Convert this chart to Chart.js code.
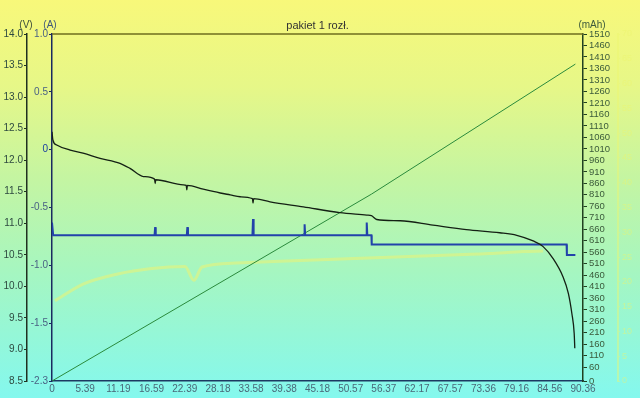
<!DOCTYPE html>
<html><head><meta charset="utf-8">
<script src="https://cdn.jsdelivr.net/npm/chart.js@4"></script>
<style>
html,body{margin:0;padding:0;}
body{width:640px;height:398px;overflow:hidden;background:linear-gradient(to bottom,#f8f87a 0%,#e6f788 22%,#c4f5a2 45%,#a6f6c0 68%,#84f8ee 100%);}
#wrap{position:relative;width:640px;height:398px;}
</style></head><body><div id="wrap"><canvas id="c" width="640" height="398"></canvas></div>
<script>
const chartTitle = 'pakiet 1 rozł.';
const unitV = '(V)', unitA = '(A)', unitMAh = '(mAh)';
const totalMinutes = 90.6;
const xTickLabels = ['0','5.39','11.19','16.59','22.39','28.18','33.58','39.38','45.18','50.57','56.37','62.17','67.57','73.36','79.16','84.56','90.36'];

const voltTime   = [0,0.15,0.8,3.1,5.3,8.2,11.6,13.3,15.6,17.5,17.6,17.7,22.4,22.9,23.0,23.1,25.8,28.7,30.4,32.1,34.2,34.3,34.4,37.2,42.9,49.1,53.7,54.5,55.4,59.4,65.0,70.7,76.4,79.3,82.1,83.8,85.5,87.2,88.1,88.7,89.1,89.2];
const voltValues = [12.45,12.32,12.24,12.16,12.11,12.03,11.95,11.87,11.74,11.70,11.63,11.69,11.61,11.60,11.53,11.60,11.54,11.48,11.45,11.42,11.39,11.32,11.39,11.34,11.26,11.17,11.13,11.12,11.06,11.04,10.97,10.90,10.85,10.81,10.72,10.63,10.44,10.15,9.89,9.57,9.25,9.02];

const currTime   = [0,0.2,17.5,17.6,17.7,23.0,23.1,23.2,34.2,34.3,34.4,43.0,43.1,43.2,53.6,53.7,53.8,54.5,54.55,87.8,87.85,89.3];
const currValues = [-0.63,-0.74,-0.74,-0.67,-0.74,-0.74,-0.67,-0.74,-0.74,-0.60,-0.74,-0.74,-0.645,-0.74,-0.74,-0.63,-0.74,-0.74,-0.82,-0.82,-0.91,-0.91];

const capTime   = [0,54.5,89.3];
const capValues = [0,813,1379];

const tempTime   = [0.5,5.4,11.2,17.0,22.7,24.2,25.6,31.4,40.0,51.5,63.1,74.6,80.4,83.8];
const tempValues = [16.2,19.6,21.6,22.7,23.1,20.3,23.0,23.8,24.2,24.7,25.2,25.7,26.1,26.2];

const ampTickValues = [1,0.5,0,-0.5,-1,-1.5,-2];
const ampTickLabels = ['1.0','0.5','0','-0.5','-1.0','-1.5','-2.3'];
const mAhTickValues = [0,60,110,160,210,260,310,360,410,460,510,560,610,660,710,760,810,860,910,960,1010,1060,1110,1160,1210,1260,1310,1360,1410,1460,1510];
const tempTickValues = [0,5,10,15,20,25,30,35,40,45,50,55,60,65,70];

const pts = (xs, ys) => xs.map((x, i) => ({x, y: ys[i]}));
const FONT = 'Liberation Sans, Arial, sans-serif';

const decor = {
  id: 'decor',
  afterDraw(chart) {
    const {ctx, chartArea: a} = chart;
    ctx.save();
    ctx.strokeStyle = '#6e6e1e';
    ctx.lineWidth = 1.5;
    ctx.beginPath(); ctx.moveTo(a.left, a.top); ctx.lineTo(a.right, a.top); ctx.stroke();
    ctx.font = '10px ' + FONT;
    ctx.textAlign = 'center'; ctx.textBaseline = 'middle';
    ctx.fillStyle = '#3c4c3c';
    ctx.fillText(unitV, 26, 25);
    ctx.fillStyle = '#40587a';
    ctx.fillText(unitA, 50, 25);
    ctx.fillStyle = '#3c5a3c';
    ctx.fillText(unitMAh, 592, 25);
    ctx.font = '11px ' + FONT;
    ctx.fillStyle = '#333333';
    ctx.fillText(chartTitle, (a.left + a.right) / 2, 26);
    ctx.restore();
  }
};

new Chart(document.getElementById('c'), {
  type: 'line',
  data: {
    datasets: [
      {label: 'U', data: pts(voltTime, voltValues), yAxisID: 'yV', borderColor: '#142014', borderWidth: 1.3, pointRadius: 0, cubicInterpolationMode: 'monotone'},
      {label: 'I', data: pts(currTime, currValues), yAxisID: 'yA', borderColor: '#2242aa', borderWidth: 2, pointRadius: 0, tension: 0},
      {label: 'C', data: pts(capTime, capValues), yAxisID: 'yM', borderColor: '#2a8a3c', borderWidth: 1, pointRadius: 0, tension: 0},
      {label: 'T', data: pts(tempTime, tempValues), yAxisID: 'yT', borderColor: 'rgba(232,244,120,0.6)', borderWidth: 3, pointRadius: 0, cubicInterpolationMode: 'monotone'}
    ]
  },
  options: {
    responsive: false, animation: false, devicePixelRatio: 1,
    layout: {padding: {top: 34, left: 0, right: 0, bottom: 0}},
    plugins: {legend: {display: false}, tooltip: {enabled: false}, title: {display: false}},
    scales: {
      x: {
        type: 'linear', position: 'bottom', min: 0, max: totalMinutes,
        afterBuildTicks: s => { s.ticks = xTickLabels.map((l, i) => ({value: i * totalMinutes / 16})); },
        afterFit: s => { s.height = 17; },
        ticks: {autoSkip: false, maxRotation: 0, padding: 2, color: '#4a6878', font: {size: 10, family: FONT},
          callback: (v, i) => xTickLabels[i]},
        grid: {drawOnChartArea: false, drawTicks: false},
        border: {color: '#1c3a62', width: 1.5}
      },
      yV: {
        position: 'left', weight: 1, min: 8.5, max: 14,
        afterBuildTicks: s => { const t = []; for (let v = 8.5; v <= 14.001; v += 0.5) t.push({value: +v.toFixed(1)}); s.ticks = t; },
        afterFit: s => { s.width = 27; },
        ticks: {padding: 1, color: '#2e4a40', font: {size: 10, family: FONT}, callback: v => v.toFixed(1)},
        grid: {drawOnChartArea: false, tickLength: 3, color: '#203020'},
        border: {color: '#203020', width: 1.5}
      },
      yA: {
        position: 'left', weight: 0, min: -2, max: 1,
        afterBuildTicks: s => { s.ticks = ampTickValues.map(v => ({value: v})); },
        afterFit: s => { s.width = 25; },
        ticks: {padding: 1, font: {size: 10, family: FONT},
          color: c => (c.tick && c.tick.value === 0) ? '#1a3ea0' : '#4a6284',
          callback: (v, i) => ampTickLabels[i]},
        grid: {drawOnChartArea: false, tickLength: 3, color: '#1a2a60'},
        border: {color: '#1a2a60', width: 1.5}
      },
      yM: {
        position: 'right', weight: 0, min: 0, max: 1510,
        afterBuildTicks: s => { s.ticks = mAhTickValues.map(v => ({value: v})); },
        afterFit: s => { s.width = 35; },
        ticks: {padding: 2, autoSkip: false, color: '#3a5a3a', font: {size: 9.5, family: FONT}, callback: v => String(v)},
        grid: {drawOnChartArea: false, tickLength: 4, color: '#204020'},
        border: {color: '#204020', width: 1.5}
      },
      yT: {
        position: 'right', weight: 1, min: 0, max: 70,
        afterBuildTicks: s => { s.ticks = tempTickValues.map(v => ({value: v})); },
        afterFit: s => { s.width = 22; },
        ticks: {padding: 2, autoSkip: false, color: 'rgba(238,246,110,0.5)', font: {size: 9, family: FONT}, callback: v => String(v)},
        grid: {drawOnChartArea: false, tickLength: 2, color: 'rgba(238,246,110,0.4)'},
        border: {color: 'rgba(238,246,110,0.45)', width: 2}
      }
    }
  },
  plugins: [decor]
});
</script></body></html>
